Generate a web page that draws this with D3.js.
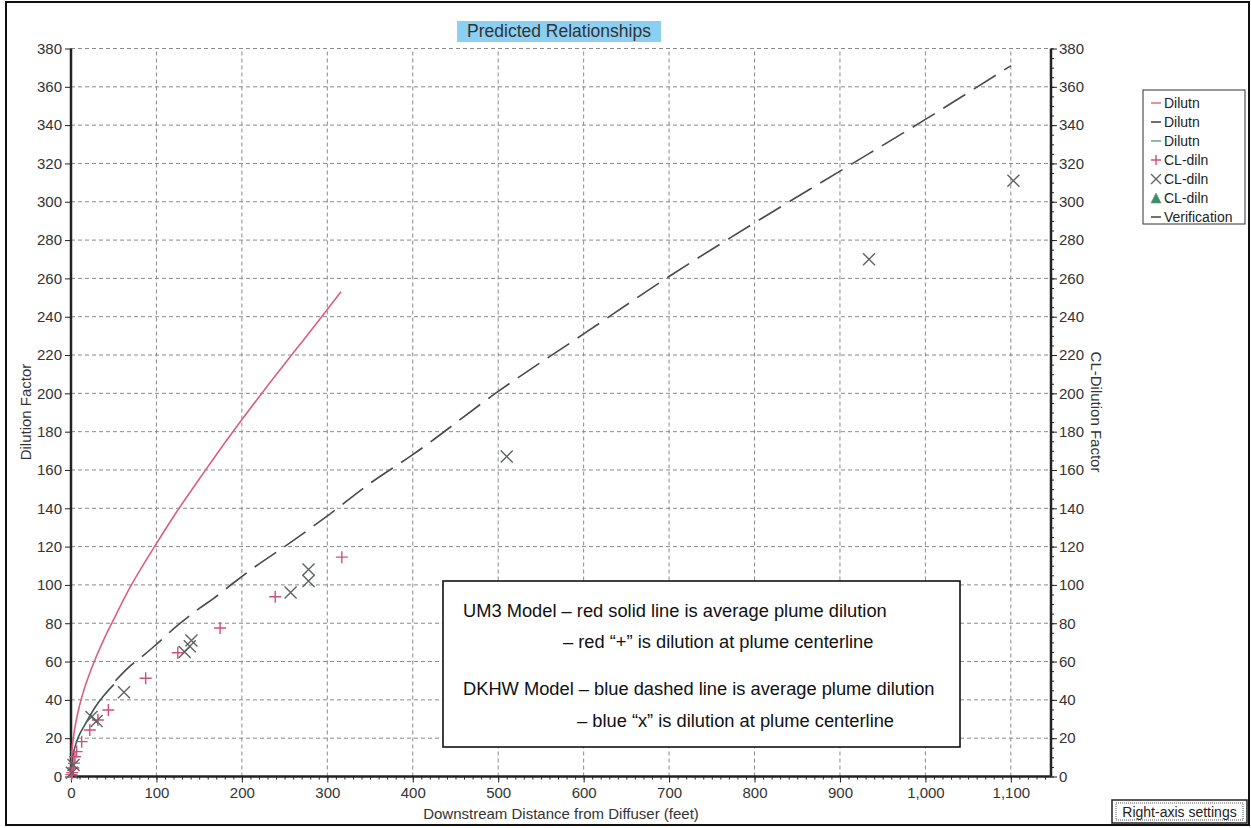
<!DOCTYPE html>
<html>
<head>
<meta charset="utf-8">
<script src="https://cdn.jsdelivr.net/npm/d3@7"></script>
<style>
  body { margin: 0; background: #fff; }
  svg { display: block; font-family: "Liberation Sans", Arial, sans-serif; }
  .tick text { fill: #333; font-size: 15px; }
  .tick line { stroke: #222; }
</style>
</head>
<body>
<svg width="1251" height="828"></svg>
<script>
// DATA
// UM3 average plume dilution (red solid)
const um3X = [0, 1, 3, 6, 10, 15, 22, 30, 40, 50, 67, 95, 122, 156, 188, 225, 260, 290, 316]
const um3Y = [0, 12, 21, 29, 37, 45, 54, 63, 73, 82, 97, 118, 137, 159, 179, 201, 221, 238, 253]

// DKHW near field (dark solid)
const dkhwNearX = [0, 2, 5, 10, 15, 20, 28, 38, 50]
const dkhwNearY = [0, 10, 16, 22, 26, 30, 36, 42, 48]

// DKHW average dilution (dashed, "Verification")
const verifX = [52, 70, 87, 100, 125, 151, 167, 190, 217, 250, 303, 350, 400, 500, 600, 700, 800, 900, 1000, 1100]
const verifY = [50, 58, 64, 69, 79, 88, 93, 101, 110, 120, 137, 153, 168, 201, 231, 261, 289, 316, 343, 371]

// centerline dilution, UM3 (red +)
const clUm3X = [0.5, 1.5, 2.7, 3.5, 4.7, 6.6, 12.5, 22, 31.5, 43.7, 87.4, 125, 174.5, 239, 317]
const clUm3Y = [1, 2, 4.4, 7, 10.3, 13, 18.2, 24.3, 29.5, 34.7, 51.3, 64.6, 77.5, 93.8, 114.5]

// centerline dilution, DKHW (grey x)
const clDkhwX = [1, 3, 24, 30, 62, 133, 139, 141, 257, 278, 278, 510, 934, 1103]
const clDkhwY = [2, 6, 31, 29, 44, 65, 68, 71, 96, 102, 108, 167, 270, 311]

const xTicks = [0, 100, 200, 300, 400, 500, 600, 700, 800, 900, 1000, 1100]
const yTicks = d3.range(0, 381, 20)

const legendLabels = ["Dilutn", "Dilutn", "Dilutn", "CL-diln", "CL-diln", "CL-diln", "Verification"]
const legendKinds = ["line", "line", "line", "plus", "cross", "tri", "line"]
const legendColors = ["#d9607e", "#333", "#5f9e8c", "#d04f7a", "#666", "#3f8f6f", "#333"]

const noteLines = [
  "UM3 Model \u2013 red solid line is average plume dilution",
  "\u2013 red \u201c+\u201d is dilution at plume centerline",
  "DKHW Model \u2013 blue dashed line is average plume dilution",
  "\u2013 blue \u201cx\u201d is dilution at plume centerline"
]

// SETUP
const svg = d3.select("svg")

const scaleX = d3.scaleLinear().domain([0, 1147]).range([71, 1051])
const scaleY = d3.scaleLinear().domain([0, 380]).range([776.5, 48.5])

// outer frame
svg.append("rect")
  .attr("x", 6).attr("y", 2).attr("width", 1243).attr("height", 823)
  .attr("fill", "none").attr("stroke", "#111").attr("stroke-width", 2)

// grid
svg.append("g")
  .selectAll("line")
  .data(yTicks.filter(d => d > 0))
  .join("line")
  .attr("x1", scaleX(0)).attr("x2", scaleX(1147))
  .attr("y1", d => scaleY(d)).attr("y2", d => scaleY(d))
  .attr("stroke", "#8a8a8a").attr("stroke-dasharray", "4,3")

svg.append("g")
  .selectAll("line")
  .data(xTicks.filter(d => d > 0))
  .join("line")
  .attr("x1", d => scaleX(d)).attr("x2", d => scaleX(d))
  .attr("y1", scaleY(0)).attr("y2", scaleY(380))
  .attr("stroke", "#8a8a8a").attr("stroke-dasharray", "4,3")

// axes
const axisXGroup = svg.append("g")
  .attr("transform", `translate(0, ${scaleY(0)})`)
  .call(d3.axisBottom(scaleX).tickValues(xTicks).tickFormat(d3.format(",")).tickSize(6).tickPadding(5))
axisXGroup.select(".domain").remove()

svg.append("g")
  .attr("transform", `translate(0, ${scaleY(0)})`)
  .call(d3.axisBottom(scaleX).tickValues(d3.range(0, 1141, 10)).tickFormat("").tickSize(3))
  .select(".domain").remove()

const axisYGroup = svg.append("g")
  .attr("transform", `translate(${scaleX(0)}, 0)`)
  .call(d3.axisLeft(scaleY).tickValues(yTicks).tickSize(6).tickPadding(3))
axisYGroup.select(".domain").remove()

const axisRGroup = svg.append("g")
  .attr("transform", `translate(${scaleX(1147)}, 0)`)
  .call(d3.axisRight(scaleY).tickValues(yTicks).tickSize(6).tickPadding(2))
axisRGroup.select(".domain").remove()

svg.append("g")
  .attr("transform", `translate(${scaleX(1147)}, 0)`)
  .call(d3.axisRight(scaleY).tickValues(d3.range(0, 381, 5)).tickFormat("").tickSize(3))
  .select(".domain").remove()

// axis lines
svg.append("line")
  .attr("x1", scaleX(0)).attr("x2", scaleX(0))
  .attr("y1", scaleY(380)).attr("y2", scaleY(0))
  .attr("stroke", "#222").attr("stroke-width", 2.5)
svg.append("line")
  .attr("x1", scaleX(1147)).attr("x2", scaleX(1147))
  .attr("y1", scaleY(380)).attr("y2", scaleY(0))
  .attr("stroke", "#222").attr("stroke-width", 2.5)
svg.append("line")
  .attr("x1", scaleX(0)).attr("x2", scaleX(1147))
  .attr("y1", scaleY(0)).attr("y2", scaleY(0))
  .attr("stroke", "#222").attr("stroke-width", 2.5)

// axis titles
svg.append("text")
  .attr("x", 561).attr("y", 819)
  .attr("text-anchor", "middle").attr("font-size", 15).attr("fill", "#333")
  .text("Downstream Distance from Diffuser (feet)")

svg.append("text")
  .attr("transform", "translate(31, 412) rotate(-90)")
  .attr("text-anchor", "middle").attr("font-size", 15).attr("fill", "#333")
  .text("Dilution Factor")

svg.append("text")
  .attr("transform", "translate(1091, 412) rotate(90)")
  .attr("text-anchor", "middle").attr("font-size", 15).attr("fill", "#333")
  .text("CL-Dilution Factor")

// title
svg.append("rect")
  .attr("x", 457).attr("y", 21).attr("width", 204).attr("height", 21)
  .attr("fill", "#8bd0f2")
svg.append("text")
  .attr("x", 559).attr("y", 37)
  .attr("text-anchor", "middle").attr("font-size", 17.5).attr("fill", "#333")
  .text("Predicted Relationships")

// LINES
const line = d3.line()
  .x(d => scaleX(d[0]))
  .y(d => scaleY(d[1]))
  .curve(d3.curveMonotoneX)

svg.append("path")
  .datum(d3.zip(um3X, um3Y))
  .attr("d", line)
  .attr("fill", "none").attr("stroke", "#d9607e").attr("stroke-width", 1.6)

svg.append("path")
  .datum(d3.zip(dkhwNearX, dkhwNearY))
  .attr("d", line)
  .attr("fill", "none").attr("stroke", "#3f5656").attr("stroke-width", 1.6)

svg.append("path")
  .datum(d3.zip(verifX, verifY))
  .attr("d", line)
  .attr("fill", "none").attr("stroke", "#4a4a4a").attr("stroke-width", 1.6)
  .attr("stroke-dasharray", "26,10")

// MARKERS
svg.append("g")
  .selectAll("path")
  .data(d3.zip(clUm3X, clUm3Y))
  .join("path")
  .attr("transform", d => `translate(${scaleX(d[0])}, ${scaleY(d[1])})`)
  .attr("d", "M-6,0H6M0,-6V6")
  .attr("stroke", "#d04f7a").attr("stroke-width", 1.4)

svg.append("g")
  .selectAll("path")
  .data(d3.zip(clDkhwX, clDkhwY))
  .join("path")
  .attr("transform", d => `translate(${scaleX(d[0])}, ${scaleY(d[1])})`)
  .attr("d", "M-6,-6L6,6M-6,6L6,-6")
  .attr("stroke", "#5e6464").attr("stroke-width", 1.4)

// NOTE BOX
svg.append("rect")
  .attr("x", 443).attr("y", 581).attr("width", 517).attr("height", 166)
  .attr("fill", "#fff").attr("stroke", "#111").attr("stroke-width", 1.6)

const noteX = [463, 563, 463, 577]
const noteY = [617, 648, 695, 727]
svg.append("g")
  .selectAll("text")
  .data(noteLines)
  .join("text")
  .attr("x", (d, i) => noteX[i]).attr("y", (d, i) => noteY[i])
  .attr("font-size", 18.3).attr("fill", "#111")
  .text(d => d)

// LEGEND
svg.append("rect")
  .attr("x", 1143).attr("y", 90).attr("width", 102).attr("height", 134)
  .attr("fill", "#fff").attr("stroke", "#333").attr("stroke-width", 1)

const legend = svg.append("g")
  .selectAll("g")
  .data(legendLabels)
  .join("g")
  .attr("transform", (d, i) => `translate(1156, ${103 + i * 19})`)

legend.append("path")
  .attr("d", (d, i) => {
    const k = legendKinds[i]
    if (k === "line") return "M-5,0H5"
    if (k === "plus") return "M-5,0H5M0,-5V5"
    if (k === "cross") return "M-5,-5L5,5M-5,5L5,-5"
    return "M-5,5L0,-5L5,5Z"
  })
  .attr("stroke", (d, i) => legendColors[i])
  .attr("fill", (d, i) => legendKinds[i] === "tri" ? legendColors[i] : "none")
  .attr("stroke-width", (d, i) => legendKinds[i] === "tri" ? 0.5 : 1.4)

legend.append("text")
  .attr("x", 8).attr("y", 5)
  .attr("font-size", 14).attr("fill", "#222")
  .text(d => d)

// RIGHT-AXIS SETTINGS BUTTON
svg.append("rect")
  .attr("x", 1112).attr("y", 800).attr("width", 135).attr("height", 23)
  .attr("fill", "#fff").attr("stroke", "#222").attr("stroke-width", 1.5)
svg.append("rect")
  .attr("x", 1116).attr("y", 803).attr("width", 127).attr("height", 17)
  .attr("fill", "none").attr("stroke", "#555").attr("stroke-width", 1).attr("stroke-dasharray", "1,1")
svg.append("text")
  .attr("x", 1179.5).attr("y", 817)
  .attr("text-anchor", "middle").attr("font-size", 14).attr("fill", "#222")
  .text("Right-axis settings")
</script>
</body>
</html>
